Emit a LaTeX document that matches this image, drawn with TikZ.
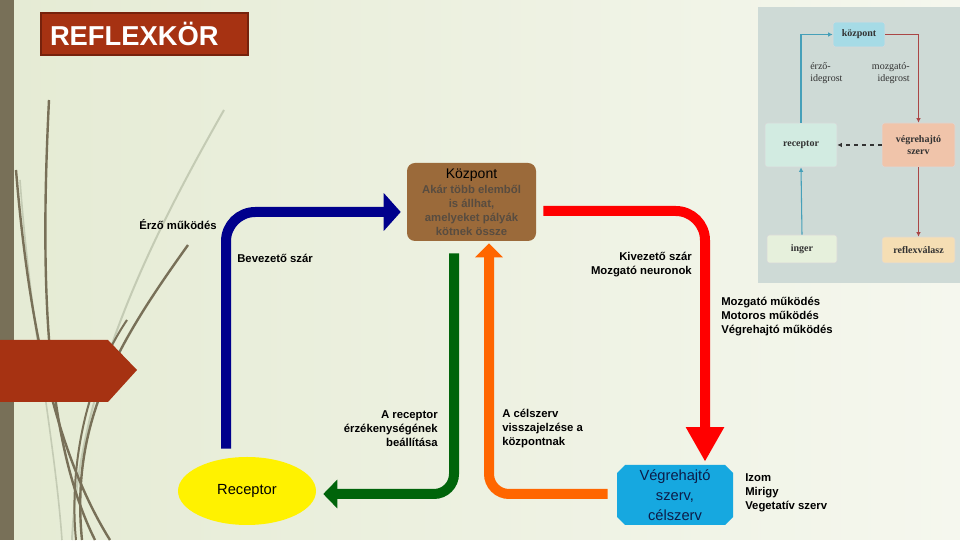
\documentclass[tikz,border=0pt]{standalone}
\usepackage{fontspec}
\setmainfont{Liberation Serif}
\setsansfont{Liberation Sans}
\usepackage{tikz}
\usetikzlibrary{positioning,shapes,shapes.geometric,shapes.misc,arrows.meta,calc}
\definecolor{bgleft}{RGB}{229,235,212}
\definecolor{bgright}{RGB}{245,247,238}
\definecolor{grass}{RGB}{120,112,88}
\definecolor{grasslight}{RGB}{196,203,180}
\definecolor{rust}{RGB}{166,50,18}
\definecolor{rustdark}{RGB}{118,34,12}
\definecolor{kozpbrown}{RGB}{155,106,58}
\definecolor{kozptext}{RGB}{88,76,64}
\definecolor{navyarr}{RGB}{0,0,140}
\definecolor{redarr}{RGB}{255,0,0}
\definecolor{greenarr}{RGB}{0,100,10}
\definecolor{orangearr}{RGB}{255,102,0}
\definecolor{vegblue}{RGB}{22,168,224}
\definecolor{vegtext}{RGB}{12,28,72}
\definecolor{insetbg}{RGB}{206,218,214}
\definecolor{ikozpfill}{RGB}{166,219,230}
\definecolor{irecfill}{RGB}{210,235,225}
\definecolor{ivegfill}{RGB}{240,196,170}
\definecolor{iingerfill}{RGB}{230,240,220}
\definecolor{ireflfill}{RGB}{245,222,180}
\definecolor{iteal}{RGB}{70,160,185}
\definecolor{ired}{RGB}{170,70,70}
\definecolor{itext}{RGB}{50,50,50}
\newcommand{\kozpdesc}[1]{{\color{kozptext}\bfseries\fontsize{8.5}{10.5}\selectfont #1}}

\begin{document}
\begin{tikzpicture}
[
   x=0.75pt,y=0.75pt,
   lbl/.style={font=\sffamily\bfseries\fontsize{8.5}{10.5}\selectfont, inner sep=0pt},
   fatarrow/.style={line width=7.5pt, rounded corners=#1},
   ibox/.style={draw=white!70!gray, rounded corners=2pt, inner sep=0pt,
      font=\rmfamily\bfseries\fontsize{7.5}{9}\selectfont, text=itext, align=center},
   iarrow/.style={line width=0.8pt, -{Latex[length=3.5pt,width=3.5pt]}}]

% background
\shade[left color=bgleft, right color=bgright] (0,0) rectangle (960,540);
\fill[grass] (0,0) rectangle (14,540);
\draw[grasslight, line width=1.5pt] (224,430) .. controls (150,300) and (80,160) .. (72,0);
\draw[grasslight, line width=1.2pt] (20,360) .. controls (30,220) and (55,100) .. (62,0);
\draw[grass, line width=1.8pt] (49,440) .. controls (40,260) and (45,100) .. (95,0);
\draw[grass, line width=1.8pt] (16,370) .. controls (30,200) and (60,80) .. (110,0);
\draw[grass, line width=1.8pt] (188,295) .. controls (120,200) and (70,120) .. (82,0);
\draw[grass, line width=1.5pt] (127,220) .. controls (80,150) and (70,60) .. (76,0);
\fill[rust] (0,200) -- (108,200) -- (137,170) -- (108,138) -- (0,138) -- cycle;

% title
\node[fill=rust, draw=rustdark, line width=1pt, minimum height=31.5pt, text width=141.75pt,
   inner xsep=6.75pt, inner ysep=0pt, align=left, text=white,
   font=\sffamily\bfseries\fontsize{20.5}{22}\selectfont] (title) at (144.5,506) {REFLEXKÖR};

% inset
\fill[insetbg] (758,257) rectangle (960,533);
\node[ibox, fill=ikozpfill, minimum width=39pt, minimum height=18.75pt] (ikozp) at (859,505.5) {központ};
\node[ibox, fill=irecfill, minimum width=54pt, minimum height=33pt] (irec) at (801,395) {receptor};
\node[ibox, fill=ivegfill, minimum width=54.75pt, minimum height=33pt] (iveg) at (918.5,395) {végrehajtó\\szerv};
\node[ibox, fill=iingerfill, minimum width=52.5pt, minimum height=21pt] (iinger) at (802,291) {inger};
\node[ibox, fill=ireflfill, minimum width=54.75pt, minimum height=19.5pt] (irefl) at (918.5,290) {reflexválasz};
\draw[iarrow, iteal] (irec.north) |- (ikozp.west);
\draw[iarrow, ired] (ikozp.east) -| (iveg.north);
\draw[iarrow, itext, dashed] (iveg.west) -- (irec.east);
\draw[iarrow, ired] (iveg.south) -- (irefl.north);
\draw[iarrow, iteal] (iinger.north) -- (irec.south);
\node[font=\rmfamily\fontsize{7.5}{9}\selectfont, text=itext, align=left, inner sep=0pt,
   anchor=north west] (ierzo) at (810,478) {érző-\\idegrost};
\node[font=\rmfamily\fontsize{7.5}{9}\selectfont, text=itext, align=right, inner sep=0pt,
   anchor=north east] (imozg) at (910,478) {mozgató-\\idegrost};

% main nodes
\node[fill=kozpbrown, rounded corners=6pt, minimum width=96.75pt, minimum height=58.5pt,
   inner sep=0pt, align=center, font=\sffamily\fontsize{10.5}{10.5}\selectfont] (kozp) at (471.5,338)
   {Központ\\[1pt]\kozpdesc{Akár több elemből}\\\kozpdesc{is állhat,}\\\kozpdesc{amelyeket pályák}\\\kozpdesc{kötnek össze}};
\node[ellipse, fill=yellow, minimum width=103.5pt, minimum height=51pt, inner sep=0pt,
   font=\sffamily\fontsize{11}{13}\selectfont] (rec) at (247,49) {Receptor};
\node[chamfered rectangle, chamfered rectangle xsep=3pt, chamfered rectangle ysep=3pt,
   fill=vegblue, minimum width=87pt, minimum height=45pt, inner sep=0pt, align=center,
   text=vegtext, font=\sffamily\fontsize{11}{15}\selectfont] (veg) at (675,45) {Végrehajtó\\szerv,\\célszerv};

% thick arrows
\draw[fatarrow=22pt, navyarr, -{Triangle[length=12.75pt,width=27.75pt]}]
   ($(rec.north)+(-21,8)$) |- ($(kozp.west)+(-6,-10)$);
\draw[fatarrow=22pt, redarr, -{Triangle[length=26pt,width=27pt]}]
   ($(kozp.east)+(7,-9)$) -| ($(veg.north)+(30,3)$);
\draw[fatarrow=15pt, greenarr, -{Triangle[length=10.5pt,width=21pt]}]
   ($(kozp.south)+(-17.5,-12)$) |- ($(rec.east)+(7,-3)$);
\draw[fatarrow=15pt, orangearr, -{Triangle[length=10.5pt,width=20pt]}]
   ($(veg.west)+(-9,1)$) -| ($(kozp.south)+(17.5,-2)$);

% labels
\node[lbl, anchor=east] (erzo) at (217,315) {Érző működés};
\node[lbl, anchor=west] (bevez) at (237,282) {Bevezető szár};
\node[lbl, anchor=east, align=right] (kivez) at (692,275) {Kivezető szár\\Mozgató neuronok};
\node[lbl, anchor=west, align=left] (mozg) at (721,223) {Mozgató működés\\Motoros működés\\Végrehajtó működés};
\node[lbl, anchor=east, align=right] (erzek) at (438,111) {A receptor\\érzékenységének\\beállítása};
\node[lbl, anchor=west, align=left] (visszaj) at (502,111) {A célszerv\\visszajelzése a\\központnak};
\node[lbl, anchor=west, align=left] (izom) at (745,47) {Izom\\Mirigy\\Vegetatív szerv};
\end{tikzpicture}
\end{document}
